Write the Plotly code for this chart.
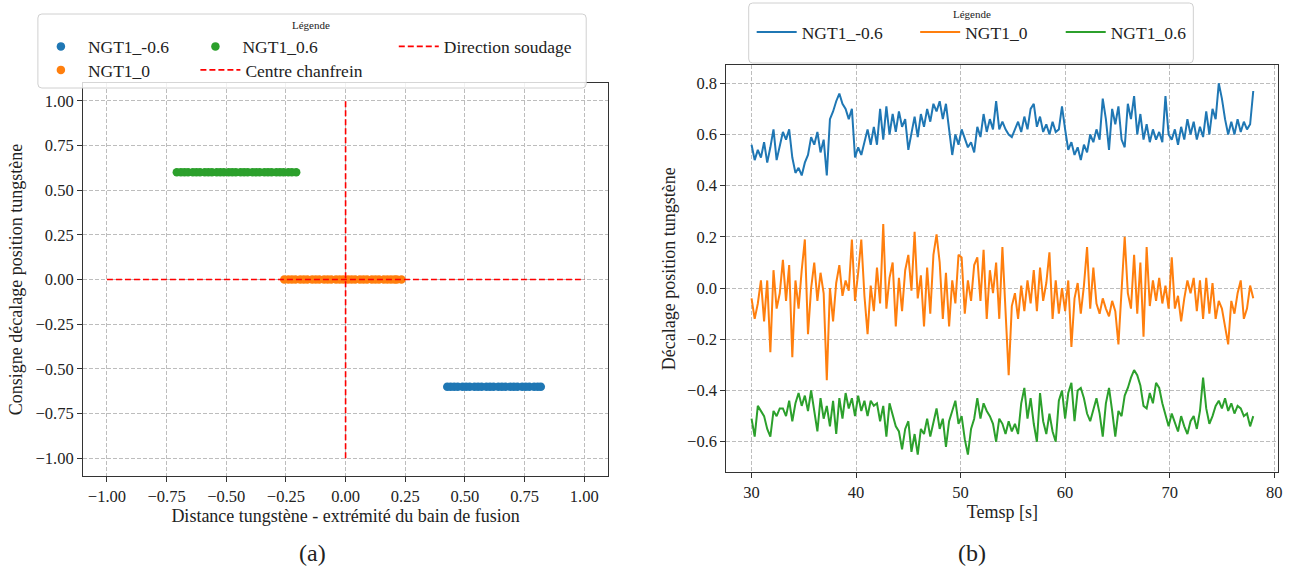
import numpy as np
import plotly.graph_objects as go

W, H = 1300, 573

# ---- (a) consigne vs distance ----
noms = ["NGT1_-0.6", "NGT1_0", "NGT1_0.6"]
couleurs = ["#1f77b4", "#ff7f0e", "#2ca02c"]
consigne = [-0.6, 0.0, 0.6]

dist_m06 = [0.426, 0.44, 0.455, 0.47, 0.49, 0.505, 0.52, 0.54, 0.555, 0.57, 0.59, 0.605, 0.62,
            0.64, 0.655, 0.67, 0.69, 0.705, 0.72, 0.74, 0.755, 0.77, 0.79, 0.805, 0.818]
dist_0 = [-0.257, -0.24, -0.225, -0.21, -0.19, -0.175, -0.16, -0.14, -0.125, -0.11, -0.09, -0.075,
          -0.06, -0.04, -0.025, -0.01, 0.01, 0.025, 0.04, 0.06, 0.075, 0.09, 0.11, 0.125, 0.14,
          0.16, 0.175, 0.19, 0.205, 0.215, 0.234]
dist_p06 = [-0.707, -0.69, -0.675, -0.66, -0.64, -0.625, -0.61, -0.59, -0.575, -0.56, -0.54, -0.525,
            -0.51, -0.49, -0.475, -0.46, -0.44, -0.425, -0.41, -0.39, -0.375, -0.36, -0.34, -0.325,
            -0.31, -0.29, -0.275, -0.26, -0.24, -0.225, -0.207]

ligne_limites = [-1.0, 1.0]

# ---- (b) décalage vs temps ----
temps_debut, temps_fin = 30, 78

decal_m06 = [
    0.56, 0.50, 0.54, 0.51, 0.57, 0.49, 0.55, 0.62, 0.50, 0.56,
    0.61, 0.58, 0.62, 0.51, 0.45, 0.47, 0.44, 0.49, 0.52, 0.59,
    0.56, 0.61, 0.53, 0.58, 0.44, 0.66, 0.69, 0.73, 0.76, 0.72,
    0.70, 0.66, 0.70, 0.51, 0.55, 0.52, 0.57, 0.62, 0.56, 0.63,
    0.56, 0.70, 0.58, 0.71, 0.60, 0.68, 0.61, 0.69, 0.63, 0.66,
    0.54, 0.61, 0.67, 0.59, 0.68, 0.63, 0.70, 0.65, 0.72, 0.69,
    0.73, 0.66, 0.72, 0.62, 0.52, 0.60, 0.56, 0.62, 0.58, 0.55,
    0.57, 0.53, 0.63, 0.59, 0.68, 0.61, 0.66, 0.62, 0.73, 0.62,
    0.65, 0.62, 0.60, 0.59, 0.62, 0.65, 0.61, 0.67, 0.62, 0.70,
    0.72, 0.63, 0.67, 0.61, 0.64, 0.60, 0.65, 0.61, 0.62, 0.71,
    0.62, 0.54, 0.57, 0.52, 0.55, 0.50, 0.56, 0.53, 0.60, 0.57,
    0.62, 0.58, 0.74, 0.66, 0.54, 0.70, 0.64, 0.71, 0.58, 0.55,
    0.72, 0.66, 0.75, 0.60, 0.68, 0.58, 0.64, 0.57, 0.62, 0.58,
    0.61, 0.57, 0.75, 0.60, 0.58, 0.62, 0.56, 0.63, 0.58, 0.66,
    0.60, 0.65, 0.58, 0.63, 0.59, 0.69, 0.60, 0.70, 0.66, 0.80,
    0.74, 0.66, 0.60, 0.65, 0.60, 0.66, 0.61, 0.65, 0.62, 0.64,
    0.77,
]
decal_0 = [
    -0.04, -0.12, -0.06, 0.03, -0.13, 0.03, -0.25, 0.07, -0.08, -0.02,
    0.11, -0.05, 0.09, -0.27, 0.03, -0.08, 0.07, 0.19, -0.18, 0.00,
    0.10, -0.05, 0.06, -0.02, -0.36, 0.00, -0.13, 0.02, 0.09, -0.03,
    0.03, -0.01, 0.19, -0.05, 0.06, 0.19, -0.03, -0.18, 0.01, -0.09,
    0.08, -0.06, 0.25, -0.08, 0.04, 0.10, -0.15, 0.04, -0.09, 0.07,
    0.13, -0.01, 0.22, -0.04, 0.05, -0.15, 0.08, -0.10, 0.13, 0.21,
    0.10, -0.12, 0.06, -0.15, 0.03, -0.06, 0.13, 0.12, -0.10, 0.03,
    -0.05, 0.09, 0.12, -0.05, 0.15, -0.12, 0.07, -0.02, 0.10, -0.12,
    0.16, -0.10, -0.34, -0.07, -0.02, -0.12, 0.01, -0.09, 0.03, -0.06,
    0.07, -0.09, 0.08, -0.05, 0.02, 0.14, -0.12, 0.03, -0.10, 0.00,
    -0.09, 0.03, -0.23, -0.04, 0.02, -0.10, 0.01, 0.16, -0.08, 0.08,
    -0.06, -0.10, -0.04, -0.08, -0.11, -0.05, -0.09, -0.22, -0.01, 0.20,
    -0.02, -0.08, 0.13, -0.10, 0.10, -0.19, 0.16, -0.07, 0.03, -0.05,
    0.04, -0.06, 0.01, -0.08, 0.12, -0.08, -0.03, -0.13, -0.04, 0.03,
    -0.02, 0.04, -0.09, 0.03, -0.12, 0.04, -0.10, 0.02, -0.12, -0.05,
    -0.08, -0.15, -0.22, -0.05, -0.10, -0.02, 0.03, -0.12, -0.08, 0.01,
    -0.04,
]
decal_p06 = [
    -0.51, -0.58, -0.46, -0.48, -0.50, -0.55, -0.58, -0.48, -0.50, -0.47,
    -0.47, -0.50, -0.44, -0.52, -0.45, -0.41, -0.46, -0.42, -0.48, -0.40,
    -0.48, -0.56, -0.43, -0.51, -0.46, -0.54, -0.44, -0.57, -0.43, -0.51,
    -0.41, -0.47, -0.43, -0.50, -0.42, -0.48, -0.44, -0.50, -0.44, -0.46,
    -0.45, -0.52, -0.46, -0.58, -0.45, -0.50, -0.54, -0.56, -0.63, -0.55,
    -0.52, -0.64, -0.57, -0.65, -0.55, -0.57, -0.51, -0.58, -0.53, -0.47,
    -0.55, -0.51, -0.62, -0.52, -0.48, -0.44, -0.53, -0.50, -0.59, -0.65,
    -0.55, -0.51, -0.43, -0.51, -0.45, -0.48, -0.50, -0.53, -0.60, -0.51,
    -0.53, -0.57, -0.52, -0.56, -0.53, -0.57, -0.45, -0.39, -0.51, -0.43,
    -0.53, -0.60, -0.41, -0.52, -0.57, -0.49, -0.56, -0.60, -0.44, -0.40,
    -0.51, -0.41, -0.37, -0.52, -0.40, -0.39, -0.43, -0.49, -0.52, -0.47,
    -0.43, -0.49, -0.58, -0.45, -0.39, -0.48, -0.58, -0.48, -0.50, -0.42,
    -0.39, -0.35, -0.32, -0.34, -0.38, -0.46, -0.47, -0.41, -0.45, -0.37,
    -0.39, -0.45, -0.50, -0.54, -0.49, -0.53, -0.56, -0.50, -0.54, -0.57,
    -0.52, -0.50, -0.55, -0.48, -0.35, -0.47, -0.53, -0.50, -0.46, -0.44,
    -0.47, -0.43, -0.48, -0.45, -0.49, -0.46, -0.47, -0.50, -0.49, -0.54,
    -0.50,
]
temps = np.linspace(temps_debut, temps_fin, len(decal_m06))

FONT = "Liberation Serif, DejaVu Serif, serif"
GRID = "#bdbdbd"


def px(x):
    return x / W


def py(y):
    return 1 - y / H


def boite(x0, y0, x1, y1, r=4):
    # rounded rectangle (pixel coords) -> svg path in paper coords
    pts = [
        (x0 + r, y0), (x1 - r, y0), (x1, y0), (x1, y0 + r), (x1, y1 - r), (x1, y1),
        (x1 - r, y1), (x0 + r, y1), (x0, y1), (x0, y1 - r), (x0, y0 + r), (x0, y0), (x0 + r, y0),
    ]
    p = [(px(a), py(b)) for a, b in pts]
    return (f"M{p[0][0]},{p[0][1]} L{p[1][0]},{p[1][1]} Q{p[2][0]},{p[2][1]} {p[3][0]},{p[3][1]} "
            f"L{p[4][0]},{p[4][1]} Q{p[5][0]},{p[5][1]} {p[6][0]},{p[6][1]} "
            f"L{p[7][0]},{p[7][1]} Q{p[8][0]},{p[8][1]} {p[9][0]},{p[9][1]} "
            f"L{p[10][0]},{p[10][1]} Q{p[11][0]},{p[11][1]} {p[12][0]},{p[12][1]} Z")


fig = go.Figure()

# (a)
dists = [dist_m06, dist_0, dist_p06]
legendes_a = ["legend", "legend2", "legend3"]
for nom, c, cons, d, lg in zip(noms, couleurs, consigne, dists, legendes_a):
    fig.add_trace(go.Scatter(
        x=d, y=[cons] * len(d), mode="markers", name=nom,
        marker=dict(color=c, size=8.5, line=dict(width=0)),
        xaxis="x", yaxis="y", legend=lg,
    ))

fig.add_trace(go.Scatter(
    x=ligne_limites, y=[0, 0], mode="lines", name="Centre chanfrein",
    line=dict(color="red", width=1.6, dash="6px,3px"), xaxis="x", yaxis="y", legend="legend4",
))
fig.add_trace(go.Scatter(
    x=[0, 0], y=ligne_limites, mode="lines", name="Direction soudage",
    line=dict(color="red", width=1.6, dash="6px,3px"), xaxis="x", yaxis="y", legend="legend5",
))

# (b)
legendes_b = ["legend6", "legend7", "legend8"]
for nom, c, v, lg in zip(noms, couleurs, [decal_m06, decal_0, decal_p06], legendes_b):
    fig.add_trace(go.Scatter(
        x=temps, y=v, mode="lines", name=nom,
        line=dict(color=c, width=2), xaxis="x2", yaxis="y2", legend=lg,
    ))

axe = dict(
    showline=True, linecolor="#333333", linewidth=1.2, mirror=True,
    ticks="outside", ticklen=5, tickwidth=1, tickcolor="#333333",
    showgrid=True, gridcolor=GRID, griddash="4px,2px", gridwidth=1,
    zeroline=False, tickfont=dict(family=FONT, size=16.5, color="#222222"),
    title_font=dict(family=FONT, size=18, color="#222222"),
)

fig.update_layout(
    width=W, height=H,
    margin=dict(l=0, r=0, t=0, b=0),
    paper_bgcolor="white", plot_bgcolor="white",
    font=dict(family=FONT, color="#222222"),
    xaxis=dict(axe, domain=[px(83.3), px(610)], range=[-1.1, 1.1], dtick=0.25, tickformat=".2f",
               anchor="y", title=dict(text="Distance tungstène - extrémité du bain de fusion", standoff=1)),
    yaxis=dict(axe, domain=[py(476), py(83)], range=[-1.1, 1.1], dtick=0.25, tickformat=".2f",
               anchor="x", title=dict(text="Consigne décalage position tungstène", standoff=8)),
    xaxis2=dict(axe, domain=[px(728.7), px(1282.3)], range=[27.6, 80.4], dtick=10,
                anchor="y2", title=dict(text="Temsp [s]", standoff=3)),
    yaxis2=dict(axe, domain=[py(472.3), py(65)], range=[-0.7195, 0.8715], dtick=0.2, tickformat=".1f",
                anchor="x2", title=dict(text="Décalage position tungstène", standoff=6)),
    showlegend=True,
)

# legend entries placed like the matplotlib columns: (x, y, itemwidth)
leg_font = dict(family=FONT, size=17.5, color="#222222")
positions = {
    "legend": (34, 46.5, 44), "legend2": (34, 70, 44), "legend3": (189, 46.5, 44),
    "legend4": (196, 70, 40), "legend5": (395, 46.5, 40),
    "legend6": (754, 32, 40), "legend7": (918, 32, 40), "legend8": (1064, 32, 40),
}
for lg, (x, y, iw) in positions.items():
    fig.update_layout({lg: dict(
        x=px(x), y=py(y), xanchor="left", yanchor="middle", itemwidth=iw,
        bgcolor="rgba(0,0,0,0)", borderwidth=0, font=leg_font,
    )})

fig.add_shape(type="path", path=boite(38, 14, 588, 88), xref="paper", yref="paper",
              line=dict(color="#d0d0d0", width=1), fillcolor="rgba(255,255,255,0.8)", layer="above")
fig.add_shape(type="path", path=boite(751, 3, 1197, 63), xref="paper", yref="paper",
              line=dict(color="#d0d0d0", width=1), fillcolor="rgba(255,255,255,0.8)", layer="above")

notes = [
    ("Légende", 312, 25, 11), ("Légende", 975, 14, 11),
    ("(a)", 313, 553, 24), ("(b)", 975, 553, 24),
]
for txt, x, y, s in notes:
    fig.add_annotation(text=txt, x=px(x), y=py(y), xref="paper", yref="paper",
                       xanchor="center", yanchor="middle", showarrow=False,
                       font=dict(family=FONT, size=s, color="#222222"))

fig.write_html("out.html", config={"displayModeBar": False},
               post_script="document.body.style.margin = '0';")
